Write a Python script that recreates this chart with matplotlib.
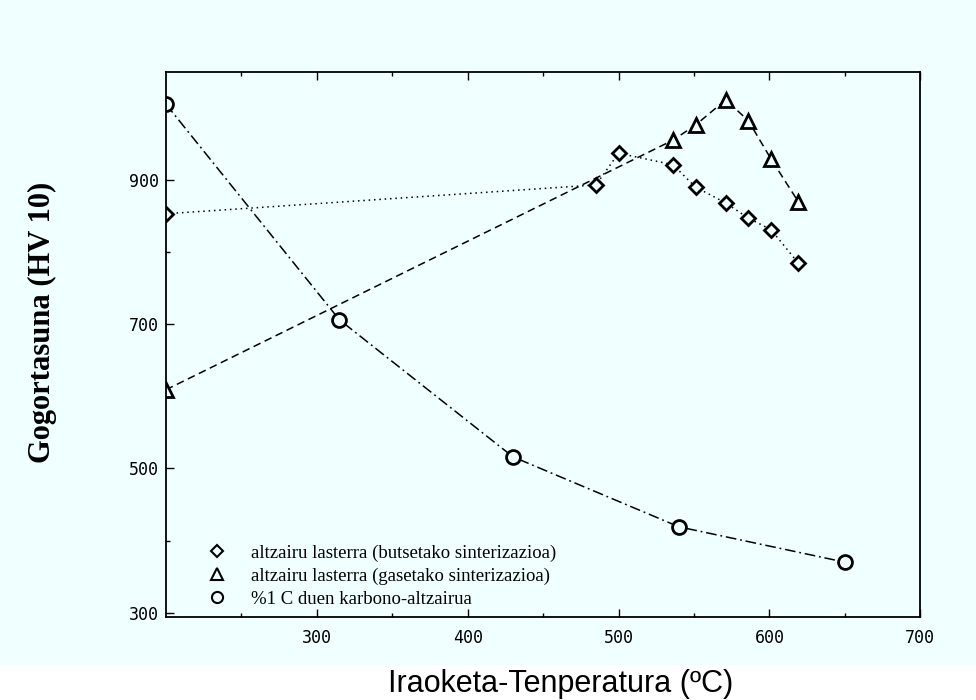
import matplotlib
matplotlib.use("Agg")
import matplotlib.pyplot as plt
from matplotlib.lines import Line2D
from matplotlib.patches import Rectangle

# Iraoketa-tenperatura (ºC) eta gogortasuna (HV 10)
butse_temp = [200, 485, 500, 536, 551, 571, 586, 601, 619]
butse_hv = [853, 893, 937, 921, 890, 868, 847, 831, 785]

gase_temp = [200, 536, 551, 571, 586, 601, 619]
gase_hv = [609, 955, 976, 1011, 982, 929, 870]

karbono_temp = [200, 315, 430, 540, 650]
karbono_hv = [1005, 706, 516, 419, 370]

x_ticks = [300, 400, 500, 600, 700]
y_ticks = [300, 500, 700, 900]

labels = ["altzairu lasterra (butsetako sinterizazioa)",
          "altzairu lasterra (gasetako sinterizazioa)",
          "%1 C duen karbono-altzairua"]

bg = '#f0ffff'

fig = plt.figure(figsize=(9.76, 7), dpi=100, facecolor=bg)
# white strip under the scanned area
fig.patches.append(Rectangle((0, 0), 1, 0.05, transform=fig.transFigure,
                             facecolor='white', edgecolor='none', zorder=-1))

ax = fig.add_axes([0.170, 0.1186, 0.773, 0.779])
ax.set_facecolor(bg)

mk = dict(color='black', markeredgecolor='black', markerfacecolor=bg,
          markeredgewidth=2, linewidth=1.1)

ax.plot(butse_temp, butse_hv, linestyle=(0, (1, 2.5)), marker='D', markersize=7.5, **mk)
ax.plot(gase_temp, gase_hv, linestyle=(0, (5, 3)), marker='^', markersize=10, **mk)
ax.plot(karbono_temp, karbono_hv, linestyle=(0, (7, 2.5, 1.2, 2.5)), marker='o',
        markersize=10, **mk)

ax.set_xlim(200, 700)
ax.set_ylim(294, 1050)
ax.set_xticks(x_ticks)
ax.set_xticks([250, 350, 450, 550, 650], minor=True)
ax.set_yticks(y_ticks)
ax.set_yticks([400, 600, 800, 1000], minor=True)
ax.tick_params(which='both', direction='in', top=True, right=False, width=1)
ax.tick_params(which='major', length=6, labelsize=12)
ax.tick_params(which='minor', length=3)
ax.tick_params(axis='x', which='major', pad=9)
ax.tick_params(axis='y', which='major', pad=5)
for t in ax.get_xticklabels() + ax.get_yticklabels():
    t.set_fontfamily('DejaVu Sans Mono')
for s in ax.spines.values():
    s.set_linewidth(1.3)

ax.set_ylabel('Gogortasuna (HV 10)', fontfamily='Liberation Serif',
              fontweight='bold', fontsize=22)
ax.yaxis.set_label_coords(-0.145, 0.54)

fig.text(0.574, 0.002, 'Iraoketa-Tenperatura (ºC)', fontfamily='Liberation Sans',
         fontsize=22, ha='center', va='bottom')

handles = [Line2D([], [], linestyle='none', marker='D', markersize=6, color='black',
                  markerfacecolor=bg, markeredgewidth=1.5),
           Line2D([], [], linestyle='none', marker='^', markersize=8, color='black',
                  markerfacecolor=bg, markeredgewidth=1.5),
           Line2D([], [], linestyle='none', marker='o', markersize=8, color='black',
                  markerfacecolor=bg, markeredgewidth=1.5)]
ax.legend(handles, labels, loc='lower left', bbox_to_anchor=(0.043, 0.0),
          frameon=False, borderpad=0, handlelength=1.0, handletextpad=1.3,
          labelspacing=0.3, prop={'family': 'Liberation Serif', 'size': 13.5})

fig.savefig('out.png', dpi=100, facecolor=fig.get_facecolor())
